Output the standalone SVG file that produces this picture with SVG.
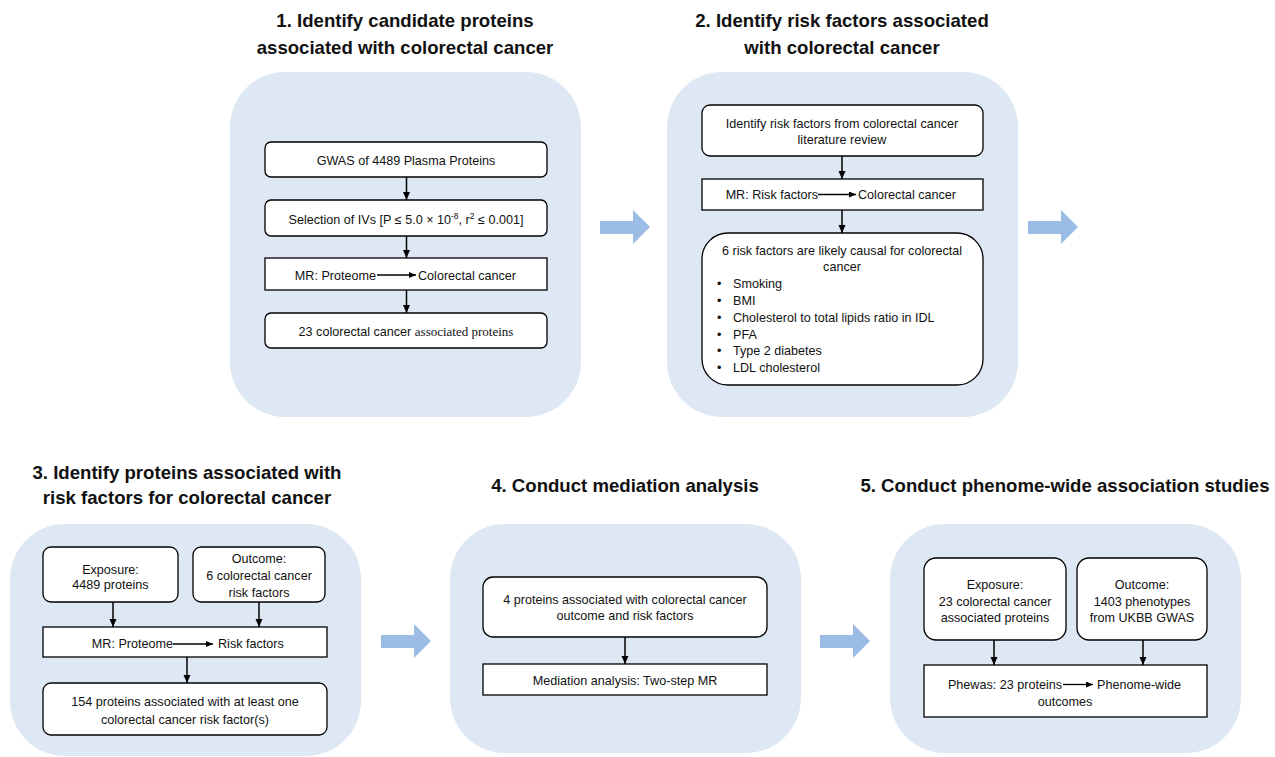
<svg xmlns="http://www.w3.org/2000/svg" width="1275" height="757" viewBox="0 0 1275 757">
<style>
.panel{fill:#dde8f4;stroke:none}
.box{fill:#ffffff;stroke:#000000;stroke-width:1.3}
.title{font-family:"Liberation Sans",Arial,sans-serif;font-weight:bold;font-size:18.6px;fill:#111111;text-anchor:middle}
.t{font-family:"Liberation Sans",Arial,sans-serif;font-size:12.6px;fill:#111111;text-anchor:middle}
.tl{font-family:"Liberation Sans",Arial,sans-serif;font-size:12.6px;fill:#111111}
.te{font-family:"Liberation Sans",Arial,sans-serif;font-size:12.6px;fill:#111111;text-anchor:end}
.serif{font-family:"Liberation Serif","Times New Roman",serif}
.conn{stroke:#000000;stroke-width:1.5;fill:none;marker-end:url(#ah)}
.inner{stroke:#000000;stroke-width:1.3;fill:none;marker-end:url(#ah2)}
.big{fill:#9bbce4}
</style>
<defs>
<marker id="ah" markerUnits="userSpaceOnUse" markerWidth="8" markerHeight="8" refX="8" refY="3.5" orient="auto"><path d="M0,0 L8,3.5 L0,7 z" fill="#000"/></marker>
<marker id="ah2" markerUnits="userSpaceOnUse" markerWidth="8" markerHeight="7" refX="7" refY="3" orient="auto"><path d="M0,0 L7,3 L0,6 z" fill="#000"/></marker>
</defs>
<rect width="1275" height="757" fill="#ffffff"/>

<!-- Panels -->
<g id="panel1">
<rect class="panel" x="230" y="72" width="351" height="345" rx="55"/>
<text class="title" x="405" y="27">1. Identify candidate proteins</text>
<text class="title" x="405" y="54">associated with colorectal cancer</text>
</g>
<g id="panel2">
<rect class="panel" x="667" y="72" width="351" height="345" rx="55"/>
<text class="title" x="842" y="27">2. Identify risk factors associated</text>
<text class="title" x="842" y="54">with colorectal cancer</text>
</g>
<g id="panel3">
<rect class="panel" x="10" y="524" width="351" height="232" rx="55"/>
<text class="title" x="187" y="479">3. Identify proteins associated with</text>
<text class="title" x="187" y="504">risk factors for colorectal cancer</text>
</g>
<g id="panel4">
<rect class="panel" x="450" y="524" width="351" height="229" rx="55"/>
<text class="title" x="625" y="492">4. Conduct mediation analysis</text>
</g>
<g id="panel5">
<rect class="panel" x="890" y="524" width="351" height="229" rx="55"/>
<text class="title" x="1065" y="492">5. Conduct phenome-wide association studies</text>
</g>

<!-- Big transition arrows -->
<g id="transitions">
<polygon class="big" points="600,221 633,221 633,210 650,227 633,244 633,234 600,234"/>
<polygon class="big" points="1028,221 1061,221 1061,210 1078,227 1061,244 1061,234 1028,234"/>
<polygon class="big" points="381,635 414,635 414,624 431,641 414,658 414,648 381,648"/>
<polygon class="big" points="820,635 853,635 853,624 870,641 853,658 853,648 820,648"/>
</g>

<!-- Panel 1 nodes -->
<g id="n1a">
<rect class="box" x="265" y="142" width="282" height="35" rx="6"/>
<text class="t" x="406" y="165">GWAS of 4489 Plasma Proteins</text>
</g>
<g id="n1b">
<rect class="box" x="265" y="200" width="282" height="36" rx="6"/>
<text class="t" x="406" y="223.5">Selection of IVs [P ≤ 5.0 × 10<tspan font-size="8.5" dy="-5">-8</tspan><tspan dy="5">, r</tspan><tspan font-size="8.5" dy="-5">2</tspan><tspan dy="5"> ≤ 0.001]</tspan></text>
</g>
<g id="n1c">
<rect class="box" x="265" y="258" width="282" height="32"/>
<text class="te" x="376" y="280">MR: Proteome</text>
<text class="tl" x="418" y="280">Colorectal cancer</text>
<line class="inner" x1="377" y1="275" x2="416" y2="275"/>
</g>
<g id="n1d">
<rect class="box" x="265" y="313" width="282" height="35" rx="6"/>
<text class="t" x="406" y="335.5">23 colorectal cancer <tspan class="serif" font-size="13">associated proteins</tspan></text>
</g>

<!-- Panel 2 nodes -->
<g id="n2a">
<rect class="box" x="702" y="105" width="281" height="51" rx="8"/>
<text class="t" x="842" y="128">Identify risk factors from colorectal cancer</text>
<text class="t" x="842" y="144">literature review</text>
</g>
<g id="n2b">
<rect class="box" x="702" y="179" width="281" height="31"/>
<text class="te" x="818" y="199">MR: Risk factors</text>
<text class="tl" x="858" y="199">Colorectal cancer</text>
<line class="inner" x1="818" y1="194.5" x2="856" y2="194.5"/>
</g>
<g id="n2c">
<rect class="box" x="702" y="233" width="281" height="152" rx="26"/>
<text class="t" x="842" y="254.5">6 risk factors are likely causal for colorectal</text>
<text class="t" x="842" y="271.3">cancer</text>
<g class="tl">
<text class="tl" x="717" y="288.1">•</text><text class="tl" x="733" y="288.1">Smoking</text>
<text class="tl" x="717" y="304.9">•</text><text class="tl" x="733" y="304.9">BMI</text>
<text class="tl" x="717" y="321.7">•</text><text class="tl" x="733" y="321.7">Cholesterol to total lipids ratio in IDL</text>
<text class="tl" x="717" y="338.5">•</text><text class="tl" x="733" y="338.5">PFA</text>
<text class="tl" x="717" y="355.3">•</text><text class="tl" x="733" y="355.3">Type 2 diabetes</text>
<text class="tl" x="717" y="372.1">•</text><text class="tl" x="733" y="372.1">LDL cholesterol</text>
</g>
</g>

<!-- Panel 3 nodes -->
<g id="n3exp">
<rect class="box" x="43" y="547" width="135" height="55" rx="8"/>
<text class="t" x="110.5" y="574">Exposure:</text>
<text class="t" x="110.5" y="589">4489 proteins</text>
</g>
<g id="n3out">
<rect class="box" x="193" y="547" width="132" height="55" rx="8"/>
<text class="t" x="259" y="563">Outcome:</text>
<text class="t" x="259" y="580">6 colorectal cancer</text>
<text class="t" x="259" y="596.5">risk factors</text>
</g>
<g id="n3mr">
<rect class="box" x="43" y="627" width="284" height="30"/>
<text class="te" x="173" y="648">MR: Proteome</text>
<text class="tl" x="218" y="648">Risk factors</text>
<line class="inner" x1="173" y1="644" x2="213" y2="644"/>
</g>
<g id="n3res">
<rect class="box" x="43" y="683" width="284" height="52" rx="8"/>
<text class="t" x="185" y="706">154 proteins associated with at least one</text>
<text class="t" x="185" y="724">colorectal cancer risk factor(s)</text>
</g>

<!-- Panel 4 nodes -->
<g id="n4a">
<rect class="box" x="483" y="577" width="284" height="60" rx="10"/>
<text class="t" x="625" y="604">4 proteins associated with colorectal cancer</text>
<text class="t" x="625" y="620">outcome and risk factors</text>
</g>
<g id="n4b">
<rect class="box" x="483" y="664" width="284" height="31"/>
<text class="t" x="625" y="685">Mediation analysis: Two-step MR</text>
</g>

<!-- Panel 5 nodes -->
<g id="n5exp">
<rect class="box" x="924" y="558" width="142" height="82" rx="12"/>
<text class="t" x="995" y="589">Exposure:</text>
<text class="t" x="995" y="605.5">23 colorectal cancer</text>
<text class="t" x="995" y="622">associated proteins</text>
</g>
<g id="n5out">
<rect class="box" x="1077" y="558" width="130" height="82" rx="12"/>
<text class="t" x="1142" y="589">Outcome:</text>
<text class="t" x="1142" y="605.5">1403 phenotypes</text>
<text class="t" x="1142" y="622">from UKBB GWAS</text>
</g>
<g id="n5phe">
<rect class="box" x="924" y="665" width="283" height="52"/>
<text class="te" x="1062" y="688.5">Phewas: 23 proteins</text>
<text class="tl" x="1097" y="688.5">Phenome-wide</text>
<line class="inner" x1="1063" y1="684.5" x2="1093" y2="684.5"/>
<text class="t" x="1065" y="705.5">outcomes</text>
</g>

<!-- Connectors -->
<g id="connectors">
<line class="conn" x1="406.5" y1="177" x2="406.5" y2="200"/>
<line class="conn" x1="406.5" y1="236" x2="406.5" y2="258"/>
<line class="conn" x1="406.5" y1="290" x2="406.5" y2="313"/>
<line class="conn" x1="842" y1="156" x2="842" y2="179"/>
<line class="conn" x1="842" y1="210" x2="842" y2="233"/>
<line class="conn" x1="113" y1="602" x2="113" y2="627"/>
<line class="conn" x1="259" y1="602" x2="259" y2="627"/>
<line class="conn" x1="187" y1="657" x2="187" y2="683"/>
<line class="conn" x1="625" y1="637" x2="625" y2="664"/>
<line class="conn" x1="994" y1="640" x2="994" y2="665"/>
<line class="conn" x1="1143" y1="640" x2="1143" y2="665"/>
</g>
</svg>
